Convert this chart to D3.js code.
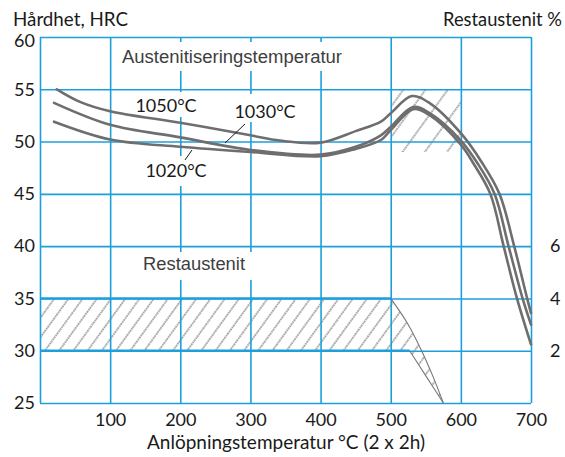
<!DOCTYPE html>
<html><head><meta charset="utf-8">
<script src="https://cdn.jsdelivr.net/npm/d3@7"></script>
<style>body{margin:0;background:#fff}svg{display:block}</style>
</head><body>
<svg id="c" width="565" height="457"></svg>
<script>
// ---- data ----
const xTicks = [100, 200, 300, 400, 500, 600, 700];
const yTicks = [25, 30, 35, 40, 45, 50, 55, 60];
const rightTicks = [2, 4, 6];          // Restaustenit %
const rightTickHRC = [30, 35, 40];     // where they sit on the HRC scale

const t1050 = [24, 57, 100, 200, 300, 342, 400, 450, 486, 500, 530, 556, 600, 630, 655, 676, 694.5, 700];
const h1050 = [55.0, 53.8, 52.9, 51.8, 50.6, 50.1, 49.9, 51.0, 51.9, 52.7, 54.35, 53.66, 50.8, 48.0, 45, 40, 35, 33.6];
const t1030 = [20, 100, 200, 300, 400, 450, 486, 500, 532, 556, 600, 624, 648, 668, 688, 700];
const h1030 = [53.7, 51.6, 50.4, 49.2, 48.75, 49.5, 50.6, 51.4, 53.3, 52.7, 50.1, 47.9, 45, 40, 35, 32.5];
const t1020 = [20, 100, 200, 300, 400, 450, 486, 500, 532, 556, 600, 618, 642, 661, 680, 700];
const h1020 = [51.9, 50.2, 49.5, 49.0, 48.6, 49.3, 50.15, 51.1, 53.1, 52.5, 49.7, 47.9, 45, 40, 35, 30.6];

// Restaustenit band (HRC-scale 30..35) and its tail
const bandT = [0, 500];
const bandH = [30, 35];
const tailOuterT = [500, 524, 544, 560.5, 575];
const tailOuterH = [35, 32.6, 30, 27.5, 25];
const tailInnerT = [527, 551, 575];
const tailInnerH = [30, 27.5, 25];
// Austenitiseringstemperatur hatched window
const winT = [500, 600];
const winH = [49, 55];

// ---- layout ----
const svg = d3.select("#c");
const x = d3.scaleLinear().domain([0, 700]).range([40, 531]);
const y = d3.scaleLinear().domain([25, 60]).range([403, 37]);
const GRID = "#1d9fdc";
const CURVE = "#6e6e6e";
const FONT = "Lato, 'Noto Sans', sans-serif";
const HFONT = "'Liberation Sans', Arial, sans-serif";

const defs = svg.append("defs");
function hatch(id, w) {
  const p = defs.append("pattern").attr("id", id).attr("patternUnits", "userSpaceOnUse")
    .attr("width", w).attr("height", 10).attr("patternTransform", "rotate(36)");
  p.append("line").attr("x1", 1).attr("x2", 1).attr("y1", 0).attr("y2", 10)
    .attr("stroke", "#8a8a8a").attr("stroke-width", 1.5).attr("stroke-dasharray", "1.7,0.8");
}
hatch("h1", 11.5);
hatch("h2", 18);

// hatched areas
const pts = [];
pts.push([x(bandT[0]), y(bandH[1])]);
tailOuterT.forEach((t, i) => pts.push([x(t), y(tailOuterH[i])]));
for (let i = tailInnerT.length - 1; i >= 0; i--) pts.push([x(tailInnerT[i]), y(tailInnerH[i])]);
pts.push([x(bandT[0]), y(bandH[0])]);
svg.append("path").attr("d", "M" + pts.join("L") + "Z").attr("fill", "url(#h1)");
svg.append("rect").attr("x", x(winT[0])).attr("y", y(winH[1]))
  .attr("width", x(winT[1]) - x(winT[0])).attr("height", y(winH[0]) - y(winH[1]))
  .attr("fill", "url(#h2)");

// grid via axes
const gx = svg.append("g").attr("transform", `translate(0,${y(25)})`)
  .call(d3.axisBottom(x).tickValues(d3.range(0, 701, 100)).tickSize(-(y(25) - y(60))).tickFormat(""));
const gy = svg.append("g").attr("transform", `translate(${x(0)},0)`)
  .call(d3.axisLeft(y).tickValues(yTicks).tickSize(-(x(700) - x(0))).tickFormat(""));
[gx, gy].forEach(g => {
  g.select(".domain").remove();
  g.selectAll("line").attr("stroke", GRID).attr("stroke-width", 1.6);
});

// label boxes hiding grid
const boxes = [[115, 42, 232, 29], [130, 92, 72, 25], [231, 94, 68, 28], [139, 156, 74, 30], [134, 252, 124, 28]];
boxes.forEach(b => svg.append("rect").attr("x", b[0]).attr("y", b[1]).attr("width", b[2]).attr("height", b[3]).attr("fill", "#fff"));

// band borders (heavier)
svg.append("line").attr("x1", x(bandT[0])).attr("x2", x(bandT[1])).attr("y1", y(bandH[1])).attr("y2", y(bandH[1]))
  .attr("stroke", GRID).attr("stroke-width", 2.2);
svg.append("line").attr("x1", x(bandT[0])).attr("x2", x(tailInnerT[0])).attr("y1", y(bandH[0])).attr("y2", y(bandH[0]))
  .attr("stroke", GRID).attr("stroke-width", 2.4);

// tail outlines
const lineGen = d3.line().x(d => x(d[0])).y(d => y(d[1])).curve(d3.curveCatmullRom.alpha(0.5));
svg.append("path").attr("d", lineGen(tailOuterT.map((t, i) => [t, tailOuterH[i]])))
  .attr("fill", "none").attr("stroke", "#777").attr("stroke-width", 1.1);
svg.append("path").attr("d", lineGen(tailInnerT.map((t, i) => [t, tailInnerH[i]])))
  .attr("fill", "none").attr("stroke", "#777").attr("stroke-width", 1.1);

// curves
[[t1050, h1050], [t1030, h1030], [t1020, h1020]].forEach(([t, h]) => {
  svg.append("path").attr("d", lineGen(t.map((v, i) => [v, h[i]])))
    .attr("fill", "none").attr("stroke", CURVE).attr("stroke-width", 2.6).attr("stroke-linecap", "round");
});

// tick labels
const lx = svg.append("g").attr("transform", `translate(0,${y(25)})`)
  .call(d3.axisBottom(x).tickValues(xTicks).tickSize(0).tickPadding(10));
const ly = svg.append("g").attr("transform", `translate(${x(0)},0)`)
  .call(d3.axisLeft(y).tickValues(yTicks).tickSize(0).tickPadding(5));
const ry = svg.append("g").attr("transform", `translate(${x(700)},0)`)
  .call(d3.axisRight(y).tickValues(rightTickHRC).tickSize(0).tickPadding(19)
    .tickFormat((d, i) => rightTicks[i]));
[lx, ly, ry].forEach(g => {
  g.select(".domain").remove();
  g.selectAll("text").attr("font-family", FONT).attr("font-size", 18).attr("fill", "#1a1a1a");
});
ly.selectAll("text").filter(d => d === 60).attr("dy", "0.5em");

function txt(s, X, Y, opt = {}) {
  const t = svg.append("text").attr("x", X).attr("y", Y).text(s)
    .attr("font-family", opt.family || FONT).attr("font-size", opt.size || 18)
    .attr("fill", opt.fill || "#1a1a1a").attr("text-anchor", opt.anchor || "start")
    .attr("font-weight", opt.weight || "normal");
  if (opt.len) t.attr("textLength", opt.len).attr("lengthAdjust", "spacingAndGlyphs");
  return t;
}
txt("Hårdhet, HRC", 13, 26, {size: 19, len: 115});
txt("Restaustenit %", 562, 26, {size: 18.5, anchor: "end", len: 119});
txt("Anlöpningstemperatur °C (2 x 2h)", 286, 449, {size: 19, anchor: "middle", len: 278});
txt("Austenitiseringstemperatur", 122, 63, {family: HFONT, size: 17.5, fill: "#3e3e3e", len: 220});
txt("Restaustenit", 143, 270, {family: HFONT, size: 17.5, fill: "#3e3e3e", len: 102});
txt("1050°C", 166, 112, {size: 18, anchor: "middle"});
txt("1030°C", 265, 118, {size: 18, anchor: "middle"});
txt("1020°C", 176, 177, {size: 18, anchor: "middle"});
// leader lines
svg.append("line").attr("x1", 245).attr("y1", 124).attr("x2", 225).attr("y2", 143).attr("stroke", "#1a1a1a").attr("stroke-width", 1);
svg.append("line").attr("x1", 192).attr("y1", 150).attr("x2", 185).attr("y2", 160).attr("stroke", "#1a1a1a").attr("stroke-width", 1);
</script>
</body></html>
